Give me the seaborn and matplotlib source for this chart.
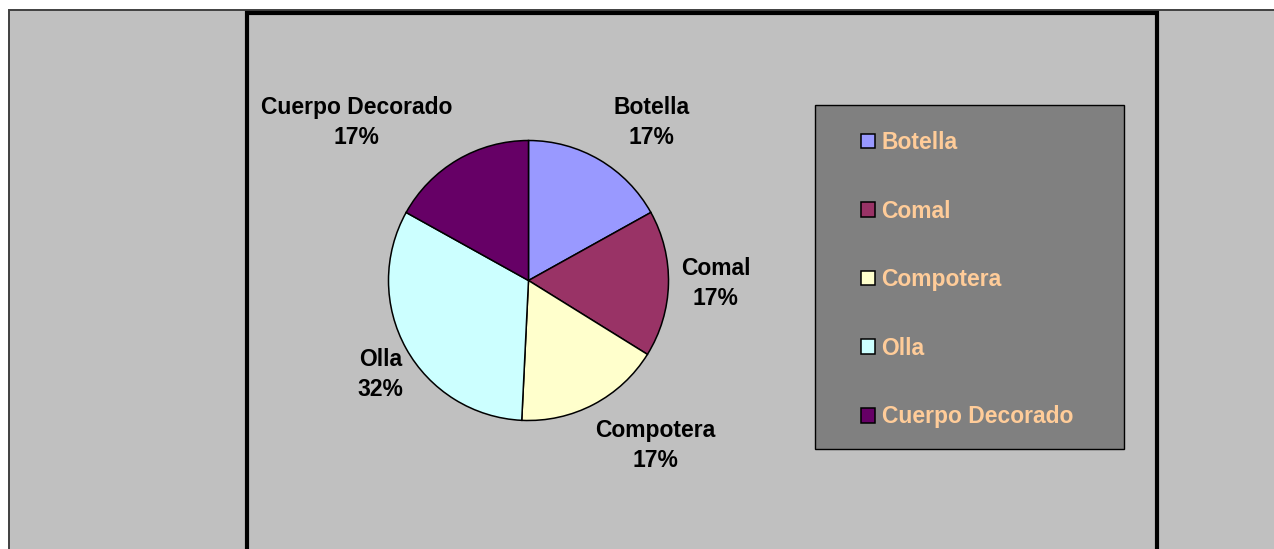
import matplotlib
matplotlib.use("Agg")
import matplotlib.pyplot as plt
from matplotlib.patches import Rectangle
import seaborn as sns

# Pottery type counts
categories = ["Botella", "Comal", "Compotera", "Olla", "Cuerpo Decorado"]
counts = [11, 11, 11, 21, 11]
slice_colors = ["#9999FF", "#993366", "#FFFFCC", "#CCFFFF", "#660066"]

sns.set_theme(style="white")
plt.rcParams["font.family"] = ["Liberation Sans", "DejaVu Sans"]
plt.rcParams["font.weight"] = "bold"

W, H = 1274, 549
fig = plt.figure(figsize=(W / 100, H / 100), dpi=100)
fig.patch.set_facecolor("white")


def fx(x):
    return x / W


def fy(y):
    return 1 - y / H


# Grey canvas with thin outer frame
fig.add_artist(Rectangle((fx(9), fy(560)), fx(1300 - 9), (560 - 10) / H,
                         transform=fig.transFigure, facecolor="#C0C0C0",
                         edgecolor="#404040", linewidth=1.4, zorder=0))
# Heavy black frame of the chart area
fig.add_artist(Rectangle((fx(247), fy(560)), fx(1157 - 247), (560 - 12.5) / H,
                         transform=fig.transFigure, facecolor="none",
                         edgecolor="black", linewidth=3.0, zorder=1))

# Pie axes: centre (528, 280), radius 140 px
cx, cy, r = 528.5, 280.5, 140
ax = fig.add_axes([fx(cx - r), fy(cy + r), 2 * r / W, 2 * r / H])
ax.set_facecolor("none")
ax.axis("off")

palette = sns.color_palette(slice_colors)
wedges, _ = ax.pie(counts, colors=palette, startangle=90, counterclock=False,
                   radius=1.0,
                   wedgeprops=dict(edgecolor="black", linewidth=1.1))
ax.set_xlim(-1, 1)
ax.set_ylim(-1, 1)

total = sum(counts)
pcts = [f"{v / total * 100:.0f}%" for v in counts]

# Data label placement, in pie-radius units relative to the centre
label_pos = [(0.879, 1.129), (1.336, -0.021), (0.907, -1.179),
             (-1.057, -0.671), (-1.229, 1.129)]
for name, pct, (lx, ly) in zip(categories, pcts, label_pos):
    ax.text(lx, ly, f"{name}\n{pct}", ha="center", va="center",
            fontsize=16.5, fontweight="bold", color="black",
            linespacing=1.38, clip_on=False)

# Legend box
fig.add_artist(Rectangle((fx(815.5), fy(449)), (1124 - 815.5) / W, (449 - 105) / H,
                         transform=fig.transFigure, facecolor="#808080",
                         edgecolor="black", linewidth=1.0, zorder=2))
leg = fig.legend(wedges, categories, loc="upper left",
                 bbox_to_anchor=(fx(861), fy(131)),
                 frameon=False, borderpad=0, borderaxespad=0,
                 fontsize=16.5, labelcolor="#FFCC99",
                 handlelength=0.6, handleheight=0.6, handletextpad=0.3,
                 labelspacing=1.99)
leg.set_zorder(3)
for t in leg.get_texts():
    t.set_fontweight("bold")

fig.savefig("out.png", dpi=100, facecolor=fig.get_facecolor())
